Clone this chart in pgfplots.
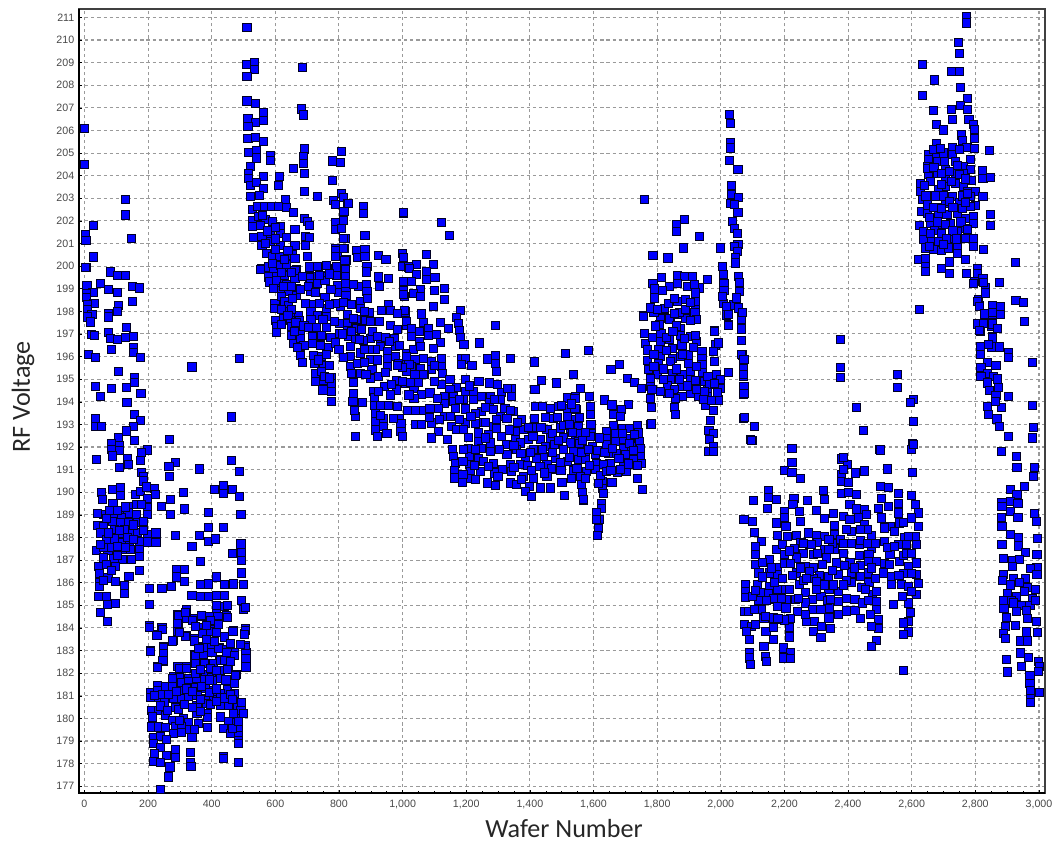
\documentclass[border=0pt]{standalone}
\usepackage{fontspec}
\setmainfont{Liberation Sans}
\newfontfamily\lab{Carlito}
\usepackage{pgfplots}
\pgfplotsset{compat=1.18}
\definecolor{tk}{HTML}{484848}
\definecolor{gr}{HTML}{9a9a9a}
\begin{document}
\begin{tikzpicture}
\path[use as bounding box] (-59.25pt,-37.5pt) rectangle (735pt,594.75pt);
\begin{axis}[
 at={(0,0)},anchor=south west,scale only axis,width=724.5pt,height=588pt,
 xmin=-17,xmax=3019,ymin=176.7,ymax=211.37,
 xtick={0,200,...,3000},ytick={177,178,...,211},
 minor x tick num=3,
 grid=major,
 major grid style={gr,line width=0.8pt,dash pattern=on 2.4pt off 2.2pt},
 tick style={black,line width=0.4pt},
 major tick length=2.5pt,minor tick length=1.5pt,
 tick pos=left,
 x tick label style={font=\fontsize{8}{9}\selectfont,text=tk,yshift=-2pt,/pgf/number format/assume math mode=true,/pgf/number format/1000 sep={,}},
 y tick label style={font=\fontsize{8}{9}\selectfont,text=tk,/pgf/number format/assume math mode=true},
 axis line style={black!75,line width=1pt},
 clip=false,
]
\addplot[only marks,mark=square*,mark size=3.05pt,mark options={fill=blue,draw=black!85!blue,line width=0.75pt}] coordinates {
(0,206.1)(0,204.5)(128,202.95)(128,202.26)(28,201.78)(4,201.4)(5,201.15)(148,201.22)(28,200.4)(5,199.93)
(4,199.94)(81,199.74)(104,199.57)(128,199.6)(51,199.24)(8,199.13)(27,198.85)(77,198.96)(104,198.85)(151,199.09)(174,199.03)(151,198.44)(6,198.8)(6,198.6)(30,198.34)(9,198.3)(11,198.07)(108,198.25)(103,198)(77,197.92)(77,197.75)(24,197.85)(9,197.75)(18,197.53)(22,196.97)(32,196.92)(131,197.3)(77,197.08)(81,196.78)(105,196.75)(130,196.86)(153,196.88)(85,196.33)(155,196.38)(155,196.19)(175,195.95)(14,196.08)(35,195.95)(488,195.9)(338,195.54)(108,195.35)(158,195.05)(158,194.86)(34,194.68)(85,194.6)(131,194.64)(178,194.36)(51,194.23)(134,193.98)(158,193.42)(461,193.33)(35,193.24)(177,193.18)(35,192.92)(55,192.92)(154,192.92)(133,192.71)(108,192.4)(268,192.33)(158,192.3)(85,192.15)(111,192.06)(85,191.89)(198,191.87)(111,191.86)(179,191.74)(87,191.6)(37,191.46)(135,191.49)(177,191.4)(461,191.42)(287,191.33)(139,191.22)(111,191.1)(266,191.12)(362,191.03)(488,190.9)(179,190.86)(267,190.69)(186,190.7)(187,190.5)
(53,190)(89,190.14)(114,190.19)(114,189.86)(160,189.89)(176,190.04)(195,190.23)(221,190.16)(198,189.74)(223,189.89)(311,190)(410,190.14)(437,190.29)(437,189.96)(465,190.14)(488,189.82)(58,189.67)(90,189.48)(270,189.67)(242,189.38)(137,189.38)(163,189.45)(198,189.33)(315,189.26)(271,189)(389,189.11)(492,189)(116,189.08)(137,189.08)(163,189)(198,189)(90,188.93)(116,188.86)(166,188.67)(90,188.71)(114,188.64)(139,188.67)(187,188.71)(40,188.52)(61,188.49)(95,188.34)(116,188.2)(142,188.27)(168,188.23)(389,188.45)(437,188.45)(51,188.2)(198,188.12)(225,188.2)(287,188.08)(363,188.08)(95,187.93)(69,187.9)(121,187.76)(142,187.83)(174,187.83)(198,187.8)(225,187.76)(389,187.83)(412,187.93)(338,187.6)(492,187.71)(37,187.43)(74,187.43)(121,187.46)(145,187.46)(172,187.46)(465,187.31)(494,187.34)(59,187.09)(93,187.05)(120,187.02)(148,187.02)(172,187.14)(494,186.99)(365,186.92)(45,186.72)(69,186.8)(98,186.7)(172,186.53)(289,186.58)(315,186.58)(494,186.43)(48,186.4)(74,186.21)(140,186.28)(289,186.25)(415,186.25)(48,186.02)(98,186.06)(315,186.06)(125,185.87)(48,185.84)(204,185.74)(244,185.74)(274,185.84)(366,185.91)(391,185.94)(441,185.91)(468,185.94)(499,185.91)(125,185.52)(338,185.45)(366,185.38)(391,185.38)(416,185.43)(441,185.45)(494,185.22)(43,185.4)(69,185.4)(98,185.07)(72,185.03)(204,185.03)(499,184.81)(416,184.88)(441,184.96)(321,184.81)(51,184.69)(294,184.59)(342,184.4)(368,184.52)(394,184.52)(420,184.52)(447,184.55)(72,184.27)(321,184.44)(294,184.2)(420,184.2)(204,184.1)(244,184)(294,183.85)(370,184)(397,183.92)(468,183.9)(505,183.96)(229,183.7)(321,183.68)(370,183.78)(502,183.75)(279,183.44)(345,183.52)(248,183.19)(505,183.22)(373,183.19)(399,183.23)(425,183.12)(447,183.04)(208,183.01)(347,182.82)(473,182.9)(510,182.93)(248,182.82)(373,182.82)(399,182.9)(248,182.53)(425,182.6)(510,182.6)(347,182.45)(376,182.42)(229,182.3)(294,182.28)(321,182.28)(452,182.23)(510,182.3)(478,181.94)(279,181.87)(300,181.8)(326,181.77)(352,181.87)(376,181.94)(399,181.8)(425,181.8)
(205,184.03)(246,183.93)(228,183.67)(278,183.42)(207,182.97)(249,183.15)(249,182.86)(247,182.56)(230,182.24)(298,182.22)(322,182.22)(349,182.41)(378,182.41)(406,182.41)(427,182.56)(425,182.12)(451,182.16)(475,181.9)(349,182.78)(375,183.15)(401,182.93)(422,183.08)(448,182.93)(471,182.78)(506,183.15)(508,182.86)(508,182.63)(508,182.27)(467,183.85)(506,183.88)(503,183.7)(347,183.42)(319,183.62)(298,183.81)(292,184.18)(295,184.55)(319,184.7)(341,184.33)(367,184.55)(371,183.74)(395,184.33)(397,183.86)(416,185)(421,184.15)(449,185)(450,184.48)(505,184.9)
(207,181.16)(207,180.91)(230,181.46)(230,181.24)(233,180.91)(254,181.41)(278,181.41)(278,181.75)(304,181.6)(326,181.65)(354,181.75)(378,181.71)(403,181.68)(429,181.75)(449,181.27)(472,181.53)(472,181.09)(301,181.24)(327,181.35)(349,181.35)(381,181.31)(406,181.21)(280,180.87)(305,180.87)(328,180.99)(354,181.01)(381,180.87)(406,180.84)(427,181.09)(252,180.68)(285,180.5)(354,180.57)(383,180.65)(429,180.57)(454,180.57)(480,180.53)(212,180.35)(233,180.35)(254,180.13)(354,180.2)(386,180.23)(429,180.06)(475,180.13)(215,180.06)(278,179.91)(312,179.98)(328,179.81)(359,179.79)(386,180.03)(454,179.87)(477,179.81)(212,179.62)(233,179.62)(256,179.59)(285,179.62)(306,179.62)(330,179.5)(386,179.59)(436,179.54)(483,179.54)(459,179.32)(483,179.25)(280,179.32)(306,179.39)(217,179.14)(238,179.2)(259,179.06)(338,179.17)(485,179.03)(217,178.88)(240,178.73)(285,178.61)(485,178.88)(220,178.44)(259,178.36)(285,178.26)(333,178.51)(436,178.33)(436,178.22)(217,178.11)(238,178.04)(269,177.85)(333,178.04)(335,177.89)(485,178.04)(264,177.41)(238,176.86)
(511,210.56)(511,208.9)(535,209)(535,208.7)(685,208.78)(511,208.4)(511,207.3)(539,207.18)(562,206.78)(681,206.95)(688,206.68)(562,206.43)(514,206.53)(538,206.34)(514,206.17)(514,205.65)(539,205.69)(562,205.5)(517,205.01)(542,205.1)(542,204.78)(585,204.88)(585,204.66)(692,205.18)(688,204.84)(688,204.54)(658,204.32)(809,205.06)(781,204.65)(805,204.57)(522,204.42)(517,204.1)(517,203.88)(562,203.95)(612,203.95)(692,204.1)(522,203.58)(541,203.69)(562,203.44)(609,203.58)(781,203.8)(522,203.07)(549,203.14)(632,202.95)(692,203.29)(732,203.07)(809,203.2)(784,202.92)(788,202.74)(813,203.02)(828,202.77)
(527,202.52)(543,202.63)(566,202.63)(587,202.63)(611,202.63)(635,202.6)(658,202.36)(692,202.11)(816,202.4)(527,202.03)(548,202.18)(569,202.06)(590,201.96)(700,201.96)(708,201.78)(788,201.92)(813,202)(529,201.74)(553,201.78)(615,201.77)(662,201.62)(790,201.62)(809,201.67)(532,201.27)(558,201.3)(584,201.45)(615,201.45)(696,201.3)(708,201.27)(819,201.22)(558,200.93)(586,201.08)(616,200.93)(662,200.9)(696,200.93)(790,200.78)(816,200.78)(573,200.56)(592,200.41)(613,200.41)(653,200.49)(662,200.34)(702,200.41)(794,200.49)(824,200.27)(556,199.9)(586,199.97)(613,200.04)(636,199.97)(666,199.85)(707,199.82)(734,200)(761,200.04)(790,199.9)(821,199.97)(758,199.56)(795,199.6)(712,199.53)
(830,202.76)(877,202.62)(877,202.32)(1003,202.35)(882,201.36)(854,200.7)(882,200.73)(858,200.38)(882,200.44)(924,200.45)(948,200.3)(1001,200.55)(1003,200.26)(819,200.26)(814,201.22)(814,200.77)(788,200.7)(788,200.41)
(555,199.86)(578,199.96)(594,199.89)(617,200.04)(636,200.08)(662,199.82)(707,199.96)(732,199.99)(760,200.04)(793,199.96)(821,199.85)(888,199.99)(886,199.74)(924,199.52)(956,199.45)(1001,199.99)(1019,199.96)
(578,199.52)(604,199.52)(630,199.6)(662,199.45)(707,199.49)(756,199.52)(793,199.6)(821,199.52)(928,199.08)
(583,199.3)(609,199.23)(636,199.2)(667,199.01)(712,199.23)(733,199.23)(756,199.35)(795,199.15)(861,199.08)(886,199.2)(1003,199.26)
(594,199.01)(620,198.93)(641,198.9)(667,198.71)(712,198.86)(798,198.82)(822,199.01)(822,198.71)(888,198.86)(1003,198.93)(1005,198.67)
(599,198.34)(620,198.64)(630,198.42)(641,198.27)(712,198.32)(756,198.61)(804,198.23)(867,198.42)(890,198.57)(956,198.32)
(599,198.12)(646,197.97)(672,197.83)(712,197.98)(733,197.83)(760,198.12)(827,197.86)(869,198.12)(896,197.93)(935,198.02)(961,198.05)(1008,197.97)
(602,197.61)(625,197.68)(648,197.61)(676,197.61)(712,197.64)(762,197.78)(802,197.46)(828,197.46)(856,197.64)(883,197.61)(900,197.54)(928,197.54)(961,197.39)(1012,197.36)
(604,197.32)(604,197.06)(651,197.32)(678,197.09)(762,197.27)(802,197.02)(828,197.16)(856,197.24)(900,196.8)(932,196.75)(974,196.8)
(651,196.95)(657,196.58)(680,196.8)(680,196.46)(718,196.87)(741,196.87)(830,196.87)(851,196.8)(877,196.72)(718,196.58)(741,196.5)(766,196.4)(835,196.43)(867,196.16)(931,196.43)(952,196.21)(977,196.43)(678,196.06)(720,196.06)(746,195.99)(1013,196.14)(900,195.87)(835,195.99)(952,195.91)(977,195.99)
(722,195.69)(752,195.62)(771,195.62)(835,195.55)(858,195.69)(904,195.43)(952,195.55)(987,195.69)(1013,195.69)
(725,195.25)(746,195.33)(777,195.08)(840,195.25)(867,195.25)(900,195.03)(943,194.69)(982,194.96)(1008,194.81)
(728,194.88)(752,194.96)(777,194.81)(846,194.84)(909,194.44)(982,194.52)
(750,194.52)(777,194.44)(846,194.37)(912,194.19)(961,194.3)
(777,194.03)(844,194)(875,193.97)(912,193.85)(957,193.85)(984,193.81)
(852,193.34)(850,193.63)(914,193.48)(940,193.26)(990,193.26)(995,193.04)(914,193.12)(972,193.26)
(914,192.75)(940,192.9)(995,192.67)(852,192.45)(920,192.45)(951,192.6)(1000,192.45)
(1004,202.37)(1123,201.94)(1147,201.34)(1076,200.5)(1002,200.39)(1097,200.06)(1044,200.06)(1021,199.91)(1074,199.76)(1044,199.61)(1102,199.51)(1004,199.32)(1028,199.32)(1076,199.39)(1133,199)(1100,198.92)(1055,198.95)(1034,198.8)(1004,198.73)(1055,198.66)(1133,198.54)(1097,198.22)(1183,198.04)(1007,198.04)(1060,197.88)(1170,197.74)(1011,197.55)(1118,197.51)(1067,197.51)(1175,197.45)(1291,197.36)(1029,197.26)(1081,197.26)(1144,197.26)(1179,197.15)(1053,197.11)(1107,196.96)(1183,196.86)(1029,196.89)(1081,196.92)(1120,196.64)(1053,196.67)(1193,196.55)(1241,196.6)(1097,196.37)(1034,196.3)(1057,196.45)(1513,196.15)(1291,196.04)(1267,195.89)(1340,195.9)(1414,195.76)(1186,195.93)(1197,195.89)(1123,195.89)(1091,195.79)(1013,195.99)(1039,195.86)(1065,195.93)(1291,195.71)(1218,195.61)(1186,195.64)(1123,195.56)(1029,195.56)(1055,195.49)(1091,195.42)(1296,195.34)(1125,195.27)(1536,195.2)(1013,195.34)(1039,195.2)(1070,195.2)(1197,195)(1149,194.97)(1437,194.93)(1485,194.83)(1273,194.83)(1299,194.75)(1036,194.6)(1343,194.58)(1416,194.53)(1123,194.75)(1170,194.65)(1149,194.53)(1197,194.46)(1223,194.43)(1249,194.24)(1060,194.31)(1086,194.39)(1036,194.16)(1133,194.24)(1160,194.24)(1275,194.24)(1312,194.41)(1343,194.24)(1517,194.17)(1544,194.24)(1191,194.09)(1273,193.97)(1307,194.09)(1223,194.09)(1133,193.94)(1160,194.02)(1042,193.62)(1065,193.62)(1086,193.72)(1112,193.72)(1165,193.72)(1197,193.68)(1249,193.58)(1286,193.65)(1322,193.72)(1349,193.58)(1417,193.8)(1440,193.8)(1464,193.72)(1490,193.8)(1517,193.72)(1546,193.65)(1133,193.35)(1228,193.5)(1307,193.35)(1328,193.28)(1375,193.2)(1475,193.28)(1517,193.35)(1543,193.2)(1042,192.99)(1091,193.06)(1197,193.06)(1228,193.03)(1254,193.09)(1286,192.91)(1154,192.91)(1354,192.69)(1380,192.77)(1422,192.88)(1454,192.77)(1496,192.84)(1528,192.84)(1112,192.69)(1170,192.77)(1191,192.77)(1239,192.62)(1270,192.55)(1312,192.47)(1091,192.4)(1141,192.32)(1207,192.44)(1354,192.32)(1396,192.32)(1433,192.32)(1464,192.4)(1506,192.4)(1543,192.4)
(1239,192.25)(1275,192.18)(1328,192.1)(1370,192.18)(1449,192.03)(1477,192.1)(1528,192.18)(1157,191.88)(1207,191.95)(1249,191.95)(1275,191.81)(1328,191.66)(1359,191.88)(1412,191.88)(1443,191.59)(1506,191.88)(1538,191.81)(1160,191.59)(1210,191.59)(1239,191.51)(1286,191.29)(1385,191.51)(1422,191.51)(1480,191.51)(1517,191.37)(1554,191.44)(1165,191.29)(1212,191.22)(1254,191.37)(1338,191.22)(1370,191.22)(1454,191.22)(1485,191)(1538,190.92)(1162,190.97)(1214,190.92)(1244,190.92)(1289,190.85)(1412,190.63)(1454,190.7)(1343,190.92)(1380,190.7)(1162,190.63)(1214,190.59)(1267,190.41)(1291,190.31)(1338,190.41)(1359,190.34)(1399,190.26)(1433,190.19)(1464,190.19)(1501,190.44)(1385,190.04)(1404,189.82)(1508,189.85)
(1583,196.26)(1537,195.19)(1681,195.66)(1655,195.44)(1707,195.04)(1729,194.85)(1752,194.6)(1558,194.6)(1634,194.08)(1710,193.89)(1658,193.86)(1689,193.64)(1587,194.23)(1542,194.16)(1590,193.79)(1542,193.71)(1663,193.42)(1684,193.35)(1590,193.42)(1737,192.93)(1779,192.98)(1553,192.9)(1592,192.98)(1663,192.93)(1690,192.83)(1713,192.83)(1642,192.68)(1553,192.61)(1592,192.61)(1668,192.61)(1742,192.62)(1642,192.39)(1690,192.32)(1715,192.39)(1556,192.17)(1598,192.02)(1668,192.24)(1745,192.24)(1642,192.09)(1695,191.95)(1720,192.02)(1749,191.92)(1574,191.73)(1605,191.65)(1647,191.72)(1673,191.73)(1700,191.65)(1749,191.58)(1574,191.43)(1610,191.28)(1652,191.28)(1726,191.43)(1752,191.28)(1631,191.21)(1695,191.28)(1537,190.96)(1579,190.92)(1676,190.88)(1705,190.92)(1605,190.99)(1737,190.62)(1558,190.69)(1628,190.47)(1658,190.43)(1563,190.33)(1628,190.18)(1755,190.13)(1566,189.99)(1632,189.93)(1569,189.66)(1624,189.52)(1626,189.3)(1610,189.08)(1619,188.78)(1610,188.78)(1616,188.41)(1613,188.07)
(1758,197.81)(1792,197.94)(1824,198.09)(1868,197.88)(1897,197.94)(1920,198.2)(2008,198.35)(2040,198.28)(2066,197.91)(1810,197.69)(1841,197.62)(1923,197.65)(1889,197.69)(2018,197.84)(2023,197.4)(2064,197.62)(1760,197.03)(1808,197.4)(1812,197.03)(1873,197.25)(1980,197.13)(2064,197.2)(1840,196.76)(1873,196.95)(1904,196.88)(2064,196.7)(1810,196.66)(1763,196.59)(1925,196.66)(1994,196.59)(1878,196.51)(1983,196.51)(1847,196.37)(1770,196.29)(1805,196.29)(1941,196.22)(1899,196.07)(1978,196.22)(1873,196)(1810,196)(2067,196.07)(2072,195.85)(1770,195.82)(1847,195.92)(1941,195.92)(1980,195.78)(1805,195.7)(1899,195.7)(1842,195.78)(1941,195.63)(1773,195.41)(2072,195.48)(1802,195.23)(1847,195.26)(1878,195.19)(1904,195.34)(1943,195.29)(2023,195.29)(2072,195.11)(1986,195.19)(1779,195.04)(1842,194.97)(1904,194.97)(1948,194.89)(1998,194.97)(2072,194.64)(1779,194.67)(1832,194.7)(1878,194.67)(1998,194.6)(1959,194.55)(2072,194.33)(1784,194.53)(1854,194.53)(1904,194.38)(1832,194.38)(1878,194.23)(1931,194.23)(1779,194.16)(1959,194.23)(1993,194.08)(1857,194.13)(1952,193.82)(1782,193.76)(1854,193.76)(1978,193.61)(1857,193.45)(2072,193.27)(1968,193.17)(1963,192.73)(1977,192.61)(1965,192.32)(1977,192.02)(1963,191.8)(1977,191.8)(2094,192.32)
(2028,206.69)(2030,206.32)(2031,205.47)(2031,205.22)(2027,204.66)(2054,204.26)(2033,203.56)(2033,203.16)(2055,203.05)(2031,202.76)(2044,202.72)(2054,202.38)(2036,201.98)(2042,201.68)(2052,201.46)(1760,202.94)(1886,202.05)(1861,201.83)(1861,201.54)(1934,201.3)(1883,200.8)(1999,200.8)(1787,200.46)(1834,200.36)(2054,200.95)(2042,200.87)(2052,200.65)(2047,200.36)(2045,200.14)(2005,199.99)(2008,199.62)(2057,199.55)(1813,199.48)(1863,199.59)(1887,199.55)(1910,199.55)(1787,199.25)(1958,199.4)(1840,199.11)(1865,199.23)(1895,199.08)(1934,199.03)(2060,199.26)(2010,199.23)(1792,198.99)(1816,198.93)(1918,199.18)(2060,198.88)(2010,198.93)(1792,198.59)(1921,198.81)(1863,198.44)(1889,198.52)(1921,198.44)(2005,198.67)(2050,198.59)(1823,198.11)(2018,198.22)(2057,198.15)(1758,197.78)(1790,197.93)(1871,197.93)(1919,197.93)(2023,197.86)(2068,197.93)(1840,197.66)(1923,197.63)(2023,197.37)(2065,197.22)(1981,197.12)(1992,196.6)(2065,196.72)(2066,196.09)(2073,195.87)(1981,195.79)(2024,195.3)(2071,195.2)(2073,194.69)(2073,194.35)(2075,193.29)(2105,192.89)(2099,192.3)(1781,193.02)
(2096,192.28)(2224,191.92)(2224,191.32)(2199,190.97)(2224,190.89)(2251,190.6)(2380,191.47)(2398,191.22)(2380,190.78)(2424,190.85)(2451,190.94)(2500,191.88)(2524,191.03)(2603,192.15)(2600,191.88)(2603,190.89)(2380,190.48)(2401,190.45)(2151,190.08)(2324,190.08)(2380,189.96)(2401,190)(2427,189.89)(2151,189.77)(2503,190.26)(2528,190.21)(2558,189.96)(2103,189.62)(2175,189.67)(2230,189.74)(2272,189.62)(2327,189.67)(2505,189.74)(2558,189.52)(2600,189.85)(2611,189.45)(2146,189.3)(2199,189.15)(2227,189.45)(2248,189.15)(2301,189.18)(2406,189.45)(2427,189.26)(2453,189.23)(2497,189.3)(2526,189.38)(2558,189.08)(2621,189.08)(2354,189.05)(2385,188.93)(2199,188.9)(2073,188.79)(2101,188.71)(2175,188.64)(2327,188.82)(2458,189)(2505,188.86)(2563,188.64)(2600,188.86)(2205,188.49)(2251,188.71)(2358,188.52)(2406,188.79)(2432,188.86)(2453,188.56)(2532,188.49)(2621,188.49)(2106,188.23)(2237,188.08)(2275,188.2)(2301,188.08)(2327,188.05)(2357,188.12)(2410,188.27)(2473,188.08)(2515,188.42)(2579,187.98)(2611,188.05)(2177,188.08)(2128,187.83)(2252,187.76)(2278,187.68)(2304,187.78)(2377,187.9)(2410,187.75)(2437,187.68)(2473,187.53)(2515,187.83)(2558,187.68)(2584,187.68)(2616,187.68)(2108,187.6)(2174,187.46)(2231,187.53)(2327,187.46)(2358,187.49)(2110,187.24)(2152,187.02)(2201,187.24)(2260,187.31)(2291,187.24)(2387,187.28)(2466,187.24)(2532,187.24)(2616,186.87)(2238,187.09)(2331,187.09)(2406,186.87)(2466,186.95)(2563,186.95)(2110,186.8)(2178,186.65)(2265,186.72)(2291,186.65)(2363,186.87)(2438,186.76)(2590,186.72)(2120,186.43)(2152,186.43)(2178,186.35)(2238,186.43)(2311,186.31)(2338,186.28)(2369,186.35)(2410,186.43)(2438,186.28)(2464,186.43)(2511,186.43)(2537,186.28)(2616,186.35)(2078,185.91)(2116,185.91)(2152,185.84)(2248,185.91)(2291,186.2)(2410,185.99)(2466,185.99)(2537,185.91)(2568,185.91)(2621,185.96)(2078,185.62)(2128,185.55)(2178,185.69)(2205,185.69)(2265,185.55)(2340,185.69)(2370,185.62)(2442,185.77)(2478,185.47)(2589,185.84)(2078,185.33)(2152,185.25)(2205,185.25)(2236,185.25)(2289,185.25)(2315,185.4)(2369,185.18)(2422,185.25)(2616,185.47)(2589,185.1)(2542,185.03)(2128,185.18)(2178,184.96)(2265,185.1)(2340,184.88)(2490,185.18)(2075,184.73)(2086,184.73)(2128,184.81)(2205,184.88)(2242,184.73)(2289,184.81)(2315,184.81)(2369,184.59)(2422,184.78)(2490,184.81)(2595,184.69)(2136,184.4)(2167,184.44)(2219,184.4)(2269,184.29)(2340,184.44)(2438,184.41)(2495,184.37)(2589,184.29)(2075,184.15)(2096,184.07)(2185,184.37)(2294,184.29)(2317,184.07)(2346,183.96)(2574,184.22)(2080,183.85)(2142,183.85)(2217,184)(2292,183.85)(2495,183.96)(2589,183.82)(2574,183.7)(2091,183.48)(2167,183.48)(2217,183.6)(2315,183.56)(2490,183.44)(2136,183.19)(2474,183.17)(2091,182.92)(2196,183.11)(2220,182.92)(2141,182.75)(2143,182.53)(2091,182.67)(2196,182.67)(2220,182.63)(2093,182.38)(2575,182.13)
(2376,196.74)(2376,195.5)(2376,195.06)(2426,193.74)(2448,192.73)(2555,195.19)(2555,194.62)(2605,194.09)(2595,193.96)(2605,193.14)(2605,192.12)(2501,191.87)(2385,191.52)(2385,191)
(2633,208.9)(2671,208.23)(2725,208.6)(2750,208.6)(2750,209.41)(2747,209.9)(2772,211.05)(2772,210.75)(2753,207.91)(2635,207.54)(2775,207.42)(2753,207.1)(2669,206.88)(2725,206.94)(2776,206.94)(2727,206.47)(2678,206.26)(2699,206.02)(2780,206.47)(2795,206.25)(2798,206.03)(2756,205.8)(2798,205.66)(2677,205.44)(2759,205.55)(2727,205.26)(2774,205.26)(2798,205.19)(2845,205.1)(2678,205)(2654,204.92)(2701,205)(2727,204.92)(2785,204.73)(2654,204.7)(2680,204.63)(2704,204.63)(2737,204.63)(2651,204.4)(2764,204.4)(2822,204.23)(2706,204.29)(2785,204.26)(2653,204.04)(2680,204.11)(2737,204.11)(2764,204.08)(2824,203.89)(2848,203.92)(2627,203.64)(2706,203.89)(2787,203.79)(2706,203.52)(2737,203.67)(2764,203.52)(2627,203.3)(2685,203.37)(2801,203.3)(2824,203.08)(2634,202.93)(2659,203.08)(2729,203.08)(2785,203.08)(2706,202.76)(2801,202.67)(2785,202.64)(2682,202.59)(2630,202.42)(2649,202.34)(2743,202.34)(2848,202.27)(2685,202.27)(2711,202.27)(2769,202.12)(2795,202.2)(2848,201.8)(2624,201.78)(2659,201.9)(2695,201.83)(2722,201.87)(2795,201.9)(2767,201.68)(2637,201.53)(2672,201.56)(2743,201.53)(2695,201.46)(2717,201.24)(2637,201.19)(2795,201.21)(2664,201.1)(2685,201.1)(2769,201.24)(2743,200.91)(2643,200.8)(2669,200.72)(2693,200.68)(2717,200.8)(2795,200.87)(2825,200.72)(2622,200.31)(2643,200.35)(2769,200.28)(2720,200.18)(2643,199.99)(2693,199.91)(2806,199.91)(2643,199.77)(2720,199.66)(2771,199.69)(2806,199.69)(2824,199.43)(2798,199.32)(2831,199.07)(2833,198.8)(2624,198.07)(2809,198.51)(2813,198.25)(2853,198.25)(2832,197.85)(2853,197.85)(2809,197.48)(2816,197.11)(2851,197.34)(2855,196.89)(2816,196.45)(2851,196.42)
(2795,199.25)(2826,199.28)(2877,199.28)(2832,198.81)(2928,198.48)(2952,198.4)(2807,198.44)(2813,198.22)(2853,198.25)(2879,198.22)(2828,197.88)(2853,197.95)(2879,197.85)(2955,197.56)(2807,197.44)(2826,197.48)(2853,197.44)(2814,197.16)(2870,197.23)(2853,196.82)(2816,196.42)(2842,196.53)(2876,196.42)(2905,196.19)(2905,195.94)(2979,195.72)(2816,196.08)(2837,195.72)(2865,195.6)(2818,195.5)(2837,195.27)(2818,195.13)(2858,195.13)(2871,195.01)(2837,194.83)(2874,194.64)(2844,194.49)(2905,194.24)(2865,194.27)(2979,193.85)(2837,193.8)(2881,193.74)(2863,194.02)(2842,193.43)(2868,193.24)(2877,192.9)(2983,192.86)(2905,192.45)(2979,192.4)(2881,191.81)(2929,191.59)(2931,191.1)(2986,191.08)(2984,190.71)(2954,190.27)(2910,190.12)(2931,189.9)(2884,189.55)(2910,189.6)(2934,189.5)(2884,189.38)(2910,189.16)(2986,189.05)(2992,188.72)(2882,188.87)(2934,188.87)(2884,188.47)(2910,188.13)(2936,187.98)(2996,187.94)(2884,187.68)(2936,187.62)(2957,187.32)(2994,187.25)(2889,187.06)(2916,187)(2940,187.03)(2994,186.66)(2973,186.61)(2916,186.7)(2889,186.36)(2921,186.2)(2957,186.2)(2994,186.36)(2926,200.15)
(2885,186.1)(2910,185.9)(2940,186)(2965,185.8)(2990,185.7)(2900,185.5)(2930,185.4)(2955,185.6)(2980,185.3)(2889,185.2)(2915,185.2)(2945,185)(2972,185)
(2890,184.85)(2920,185.1)(2962,184.78)(2988,185.22)(2899,184.48)(2930,184.71)(2965,184.41)(2991,184.29)(2894,184.07)(2925,184.12)(2888,183.75)(2896,183.53)(2962,183.82)(2995,183.79)(2941,183.42)(2965,183.42)(2943,182.89)(2967,182.69)(2899,182.6)(2999,182.5)(2946,182.28)(3002,182.28)(2902,182.05)(2972,181.91)(2999,182.08)(2972,181.54)(2974,181.22)(3002,181.14)(2974,180.88)(2974,180.7)
(1350,191.1)(1372,191.7)(1392,191.2)(1402,191.75)(1432,191.15)(1440,191.9)(1468,191.05)(1470,191.75)(1495,191.3)(1498,190.95)(1525,191.55)(1530,190.6)(1548,191.05)(1562,191.75)(1565,192.3)(1585,191.9)(1588,191.2)(1590,192.45)(1612,191.85)(1618,192.4)(1622,190.75)(1636,191.75)(1640,190.9)(1655,190.95)(1660,191.95)(1680,191.5)(1685,191)(1690,192.6)(1710,191.25)(1712,192.15)(1725,191.85)(1730,192.55)(1738,191.2)(1350,192.05)(1395,192.85)(1410,192.45)(1415,193.25)(1435,192.85)(1450,193.3)(1470,192.6)(1488,193.3)(1505,192.95)(1525,193)(1530,193.9)(1490,192.3)(1445,190.85)(1405,190.95)(1375,190.55)(1555,193.3)(1535,192.65)(1500,193.85)(1575,192.65)(1615,190.4)(1575,190.6)
(1305,191.9)(1315,191)(1300,190.7)(1270,191.15)(1228,191.9)(1225,191.2)(1230,190.55)(1192,191.9)(1190,191.35)(1190,190.8)(1188,190.45)(1260,192.4)(1295,192.8)(1335,192.75)(1340,193.6)(1360,193.1)(1295,193.2)(1260,193.1)(1215,193.35)(1180,193.2)(1150,193.35)(1180,194.1)(1210,194.7)(1240,194.9)(1260,193.75)(1290,194.1)(1330,194.6)(1110,194.15)(1085,193.3)(1060,193)(1115,193.2)(1065,195.2)(1100,194.9)(1100,195.6)(1050,194.85)(1020,195.65)(1025,194.85)(1020,194.3)(1015,193.6)(1000,194.9)(1000,195.5)
(560,202.25)(575,201.55)(600,201.7)(600,201.2)(635,201.25)(640,200.7)(570,201)(600,200.75)(630,200.3)(650,199.7)(590,200.1)(605,199.35)(620,199.7)(650,199.1)(680,198.95)(685,199.55)(625,199.1)(655,198.55)(650,198.1)(620,198.1)(620,197.4)(640,197.8)(665,197.5)(660,197.1)(690,197.35)(690,196.5)(670,196.4)(685,195.75)(705,199.1)(695,198.35)(705,197.3)(730,197.3)(745,196.95)(750,197.65)(740,198.35)(725,198.85)(740,199.6)(770,199.65)(775,198.95)(790,198.35)(770,198.3)(785,197.55)(775,196.85)(790,196.6)(810,197)(815,198.4)(820,199.25)(845,199.2)(840,198.3)(845,197.7)(840,197.1)(870,197.2)(880,198)(865,196.75)(905,197.1)(920,196.9)(915,196.3)(895,196.3)(945,196.85)(960,196.65)(990,196.5)(985,197.2)(985,197.9)(920,195.85)(880,195.75)(925,195.1)(945,195.3)(885,195.2)(925,194.45)(985,195.6)(930,193.85)(930,193.4)(965,194.75)(880,196.3)(755,195.1)(770,195.05)(735,195.85)(760,196.1)(800,196.3)(815,195.95)
(2120,185.2)(2100,185.4)(2105,184.8)(2150,185.5)(2140,184.5)(2110,184.15)(2165,185.3)(2190,185.3)(2170,186)(2195,186.2)(2200,186.85)(2130,186.9)(2160,186.65)(2195,187.7)(2215,187.4)(2220,186.85)(2260,187.75)(2285,187.7)(2305,187.3)(2260,186.1)(2280,186.5)(2300,186.05)(2320,186.8)(2350,186.55)(2355,185.9)(2325,185.9)(2335,185.2)(2300,185.7)(2245,185.3)(2265,184.6)(2345,185.25)(2390,186.75)(2395,186.1)(2385,185.9)(2395,185.3)(2395,184.75)(2350,187.75)(2385,187.75)(2395,188.35)(2435,187.2)(2420,186.65)(2440,187.85)(2460,187.75)(2460,188.35)(2485,187.75)(2490,186.95)(2485,186.2)(2490,185.6)(2455,185.7)(2445,185.1)(2465,185.2)(2525,187.55)(2515,186.85)(2530,186.8)(2545,187.6)(2575,187.2)(2585,187.3)(2600,187.3)(2575,186.4)(2600,186.4)(2560,186.3)(2570,185.4)(2600,185.6)(2575,188.65)(2590,188.05)(2545,188.25)(2440,188.35)(2340,187.9)(2340,187.45)(2250,186.65)(2225,186.3)(2215,185.7)(2200,184.35)(2180,184.4)(2165,184)(2145,185.2)(2110,185.65)(2270,186.2)(2470,184.6)(2475,184.05)(2475,186.65)(2210,188.05)(2130,186.25)
(2650,204.3)(2670,204.35)(2695,204.1)(2720,204.2)(2750,204.05)(2725,203.75)(2695,203.6)(2660,203.75)(2640,203.55)(2645,203.1)(2675,203.1)(2700,203.1)(2720,202.85)(2750,202.8)(2760,203.1)(2650,202.7)(2670,202.6)(2695,202.55)(2730,202.6)(2760,202.55)(2770,202.8)(2655,202.15)(2680,201.95)(2705,201.85)(2730,201.55)(2755,201.95)(2775,201.6)(2660,201.45)(2710,201.2)(2740,201.2)(2655,200.85)(2700,200.95)(2745,204.45)(2770,203.85)(2775,203.3)(2670,205.15)(2690,205.2)(2750,205.15)
(2775,203.2)(2745,200.55)
(60,189)(40,189.05)(70,188.85)(78,189.2)(125,188.35)(155,188.55)(130,187.55)(85,187.55)(105,187.6)(60,187.55)(85,186.55)(105,187.2)(60,186.1)(50,187.7)(135,188)(155,187.9)(130,189.35)(105,189.2)(185,188.3)(180,189.45)(110,188.3)(75,188.2)
(220,181)(240,180.55)(245,181.05)(262,180.35)(265,181.05)(290,181.2)(295,180.4)(315,180.6)(320,181.3)(340,180.5)(340,181.2)(365,180.85)(368,181.4)(392,181.15)(392,181.7)(395,180.6)(415,181.3)(415,180.75)(440,180.9)(445,181.7)(458,181.05)(492,180.35)(495,180.7)(468,180.2)(465,179.55)(465,180.85)(485,179.85)(500,180.2)(300,179.9)(345,179.5)(365,180.3)(350,182)(365,182.15)(395,182.2)(415,182.1)(440,182.55)(460,182.5)(360,183.1)(385,183.5)(410,183.4)(440,183.6)(460,183.3)(490,183.25)(415,183.8)(385,184.1)(350,184.05)
(1780,198.15)(1800,198.1)(1835,198.35)(1855,198.55)(1855,197.9)(1890,198.1)(1905,198.4)(1905,197.6)(1860,197.35)(1795,197.35)(1785,196.85)(1830,196.85)(1850,197.1)(1885,196.8)(1920,196.95)(1915,196.4)(1880,196.1)(1830,196.25)(1790,196.1)(1790,195.55)(1820,195.45)(1860,195.45)(1925,195.55)(1920,194.95)(1925,194.55)(1960,195.1)(1965,194.75)(1980,194.8)(1990,194.4)(1970,194.05)(1820,195)(1870,195)(1810,194.45)(1895,194.7)(1950,194.45)(1945,194.1)(1840,194.35)
};
\draw[black,line width=1.4pt] (rel axis cs:0,1) -- (rel axis cs:0,0) -- (rel axis cs:1,0);
\end{axis}
\node[inner sep=0pt,font=\lab\fontsize{19.6}{21}\selectfont,text=black!85] at (363.75pt,-26.5pt) {Wafer Number};
\node[inner sep=0pt,font=\lab\fontsize{19.6}{21}\selectfont,text=black!85,rotate=90] at (-42pt,297pt) {RF Voltage};
\end{tikzpicture}
\end{document}
